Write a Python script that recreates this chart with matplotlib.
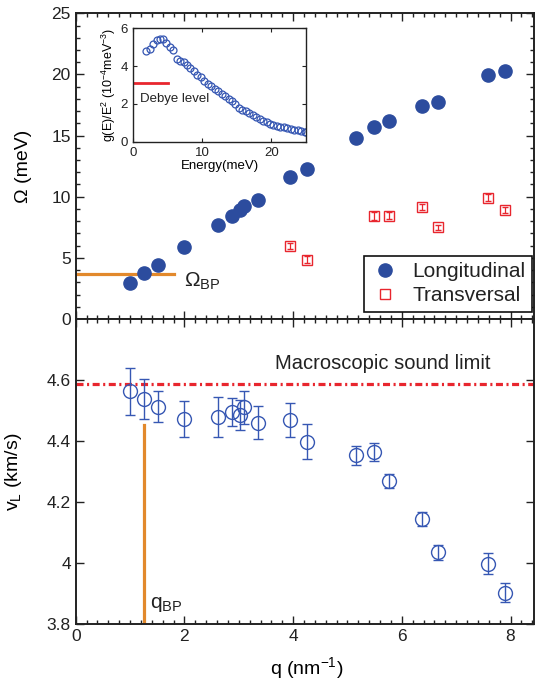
import numpy as np
import matplotlib
matplotlib.use('Agg')
import matplotlib.pyplot as plt
from matplotlib.ticker import MultipleLocator
from matplotlib.lines import Line2D

plt.rcParams['font.family'] = ['Liberation Sans', 'DejaVu Sans']
plt.rcParams['mathtext.fontset'] = 'custom'
plt.rcParams['mathtext.rm'] = 'Liberation Sans'
plt.rcParams['mathtext.it'] = 'Liberation Sans:italic'
plt.rcParams['mathtext.sf'] = 'Liberation Sans'
plt.rcParams['text.color'] = '#222222'
plt.rcParams['axes.edgecolor'] = '#222222'
plt.rcParams['xtick.color'] = '#222222'
plt.rcParams['ytick.color'] = '#222222'

# q values (nm^-1) shared by both panels
q_long = [1.00, 1.26, 1.51, 2.00, 2.62, 2.87, 3.03, 3.10, 3.35, 3.94, 4.25,
          5.16, 5.48, 5.77, 6.37, 6.67, 7.59, 7.89]
omega_long = [2.98, 3.80, 4.43, 5.90, 7.68, 8.44, 8.95, 9.20, 9.75, 11.58, 12.24,
              14.80, 15.74, 16.20, 17.38, 17.73, 19.94, 20.27]

q_trans = [3.94, 4.25, 5.48, 5.77, 6.37, 6.67, 7.59, 7.89]
omega_trans = [5.98, 4.86, 8.42, 8.44, 9.18, 7.51, 9.92, 8.91]
omega_trans_err = [0.25, 0.25, 0.3, 0.3, 0.25, 0.2, 0.3, 0.25]

v_long = [4.563, 4.538, 4.513, 4.472, 4.480, 4.496, 4.486, 4.511, 4.460, 4.470,
          4.398, 4.353, 4.365, 4.268, 4.145, 4.036, 3.999, 3.904]
v_err = [0.077, 0.065, 0.050, 0.060, 0.065, 0.045, 0.050, 0.054, 0.054, 0.055,
         0.058, 0.030, 0.030, 0.023, 0.022, 0.025, 0.035, 0.032]

# inset: reduced density of states
energy = [1.9, 2.4, 2.9, 3.4, 3.9, 4.4, 4.8, 5.3, 5.8, 6.3, 6.8, 7.3, 7.8, 8.3,
          8.8, 9.3, 9.8, 10.3, 10.8, 11.3, 11.8, 12.3, 12.8, 13.3, 13.8, 14.3,
          14.8, 15.3, 15.8, 16.3, 16.8, 17.3, 17.8, 18.3, 18.8, 19.3, 19.8,
          20.3, 20.8, 21.3, 21.8, 22.3, 22.8, 23.3, 23.8, 24.3, 24.8, 25.0]
g_over_e2 = [4.78, 4.92, 5.18, 5.38, 5.45, 5.42, 5.20, 5.02, 4.88, 4.40, 4.28,
             4.20, 4.05, 3.90, 3.72, 3.55, 3.40, 3.22, 3.08, 2.94, 2.80, 2.68,
             2.52, 2.40, 2.28, 2.14, 2.00, 1.80, 1.70, 1.60, 1.50, 1.40, 1.32,
             1.20, 1.12, 1.03, 0.96, 0.90, 0.85, 0.80, 0.76, 0.72, 0.68, 0.64,
             0.60, 0.56, 0.52, 0.50]
debye_level = 3.12

q_bp = 1.255
omega_bp = 3.69
v_sound = 4.588

v_ticks = [3.8, 4.0, 4.2, 4.4, 4.6]
v_ticklabels = ['3.8', '4', '4.2', '4.4', '4.6']

blue_fill = '#2c4c9e'
blue_open = '#3657b3'
red = '#e8262e'
orange = '#e2892c'

fig = plt.figure(figsize=(5.35, 6.83), dpi=100)
ax1 = fig.add_axes([0.1415, 0.533, 0.8565, 0.4475])
ax2 = fig.add_axes([0.1415, 0.0859, 0.8565, 0.4471])
ins = fig.add_axes([0.2486, 0.7925, 0.3234, 0.166])

# ---- top panel: dispersion
ax1.plot(q_long, omega_long, 'o', ms=9.5, color=blue_fill, mec=blue_fill, zorder=3)
ax1.errorbar(q_trans, omega_trans, yerr=omega_trans_err, fmt='s', ms=7,
             mfc='none', mec=red, mew=1.0, ecolor=red, elinewidth=0.9,
             capsize=2, capthick=0.9, zorder=3)
ax1.plot([0, 1.81], [omega_bp, omega_bp], color=orange, lw=2.3, zorder=2)
ax1.text(2.0, 3.1, r'$\Omega_{\rm BP}$', fontsize=15, va='center', ha='left')
ax1.set_xlim(0, 8.43)
ax1.set_ylim(0, 25)
ax1.set_yticks([0, 5, 10, 15, 20, 25])
ax1.xaxis.set_major_locator(MultipleLocator(2))
ax1.xaxis.set_minor_locator(MultipleLocator(0.2))
ax1.yaxis.set_minor_locator(MultipleLocator(1))
ax1.tick_params(labelbottom=False)
ax1.set_ylabel('Ω (meV)', fontsize=14)
ax1.yaxis.set_label_coords(-0.095, 0.5)

handles = [Line2D([], [], ls='none', marker='o', ms=9.5, color=blue_fill),
           Line2D([], [], ls='none', marker='s', ms=7, mfc='none', mec=red, mew=1.0)]
leg = ax1.legend(handles, ['Longitudinal', 'Transversal'], loc='lower right',
                 bbox_to_anchor=(0.995, 0.024), fontsize=15, frameon=True,
                 fancybox=False, borderpad=0.3, handletextpad=0.6,
                 labelspacing=0.25, handlelength=1.4, borderaxespad=0)
leg.get_frame().set_edgecolor('#111111')
leg.get_frame().set_linewidth(1.2)
leg.get_frame().set_alpha(1)

# ---- bottom panel: sound velocity
ax2.errorbar(q_long, v_long, yerr=v_err, fmt='o', ms=10, mfc='none',
             mec=blue_open, mew=1.0, ecolor=blue_open, elinewidth=1.0,
             capsize=3.5, capthick=1.0, zorder=3)
ax2.axhline(v_sound, color=red, lw=2.3, dashes=(2.2, 1.1, 0.65, 1.1), zorder=2)
ax2.text(3.66, 4.655, 'Macroscopic sound limit', fontsize=14.5, va='center', ha='left')
ax2.plot([q_bp, q_bp], [3.8, 4.452], color=orange, lw=2.3, zorder=2)
ax2.text(1.37, 3.835, r'q$_{\rm BP}$', fontsize=15, va='bottom', ha='left')
ax2.set_xlim(0, 8.43)
ax2.set_ylim(3.8, 4.8)
ax2.set_yticks(v_ticks)
ax2.set_yticklabels(v_ticklabels)
ax2.xaxis.set_major_locator(MultipleLocator(2))
ax2.xaxis.set_minor_locator(MultipleLocator(0.2))
ax2.set_xlabel(r'q (nm$^{-1}$)', fontsize=14)
ax2.set_ylabel(r'v$_{\rm L}$ (km/s)', fontsize=14)
ax2.yaxis.set_label_coords(-0.112, 0.5)
ax2.xaxis.set_label_coords(0.505, -0.1)

for ax in (ax1, ax2):
    ax.tick_params(which='both', direction='in', top=True, right=True,
                   labelsize=12.5, width=1.0)
    ax.tick_params(which='major', length=6)
    ax.tick_params(which='minor', length=3)
    for s in ax.spines.values():
        s.set_linewidth(1.4)

# ---- inset
ins.plot(energy, g_over_e2, 'o', ms=5, mfc='none', mec=blue_open, mew=0.9)
ins.plot([0, 5], [debye_level, debye_level], color=red, lw=2.0)
ins.text(1.0, 2.25, 'Debye level', fontsize=9.5, va='center', ha='left')
ins.set_xlim(0, 25)
ins.set_ylim(0, 6)
ins.set_xticks([0, 10, 20])
ins.set_yticks([0, 2, 4, 6])
ins.tick_params(direction='in', top=True, right=True, labelsize=9.5,
                length=3, width=0.8)
ins.set_xlabel('Energy(meV)', fontsize=9.5, labelpad=1)
ins.set_ylabel(r'g(E)/E$^2$ (10$^{-4}$meV$^{-3}$)', fontsize=9, labelpad=2)
for s in ins.spines.values():
    s.set_linewidth(1.0)

fig.savefig('out.png', dpi=100)
